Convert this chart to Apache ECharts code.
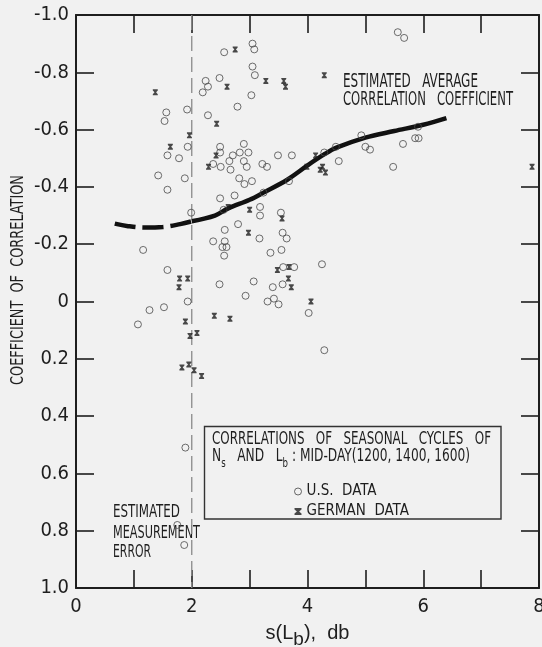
<!DOCTYPE html>
<html><head><meta charset="utf-8">
<script src="https://cdn.jsdelivr.net/npm/echarts@6/dist/echarts.min.js"></script>
<style>html,body{margin:0;padding:0;background:#f1f1f1}#c{width:542px;height:647px}</style>
</head><body><div id="c"></div>
<script>
// ---- data (s(Lb) in db, coefficient of correlation) ----
const usPoints = [[2.56,-0.87],[3.05,-0.90],[3.08,-0.88],[3.05,-0.82],[3.09,-0.79],[2.48,-0.78],[2.24,-0.77],[2.28,-0.75],[2.19,-0.73],[3.03,-0.72],[2.79,-0.68],[1.56,-0.66],[1.92,-0.67],[2.28,-0.65],[1.53,-0.63],[1.93,-0.54],[1.58,-0.51],[1.78,-0.50],[1.42,-0.44],[1.88,-0.43],[1.58,-0.39],[2.49,-0.54],[2.49,-0.52],[2.65,-0.49],[2.37,-0.48],[2.50,-0.47],[2.67,-0.46],[2.71,-0.51],[2.83,-0.52],[2.98,-0.52],[2.90,-0.55],[2.90,-0.49],[2.95,-0.47],[3.22,-0.48],[3.30,-0.47],[3.49,-0.51],[3.73,-0.51],[2.82,-0.43],[2.91,-0.41],[3.04,-0.42],[3.68,-0.42],[4.29,-0.52],[4.49,-0.54],[4.54,-0.49],[4.93,-0.58],[5.00,-0.54],[5.08,-0.53],[5.65,-0.55],[5.86,-0.57],[5.92,-0.57],[5.91,-0.61],[5.48,-0.47],[5.56,-0.94],[5.67,-0.92],[2.49,-0.36],[2.74,-0.37],[3.24,-0.38],[2.55,-0.32],[3.18,-0.33],[3.18,-0.30],[3.54,-0.31],[1.99,-0.31],[2.57,-0.25],[2.80,-0.27],[3.17,-0.22],[3.57,-0.24],[3.64,-0.22],[2.37,-0.21],[2.57,-0.21],[2.53,-0.19],[2.60,-0.19],[2.56,-0.16],[3.36,-0.17],[3.55,-0.18],[1.16,-0.18],[3.58,-0.12],[3.77,-0.12],[4.25,-0.13],[3.40,-0.05],[3.57,-0.06],[3.07,-0.07],[2.48,-0.06],[1.58,-0.11],[2.93,-0.02],[3.31,0.00],[3.42,-0.01],[3.50,0.01],[4.02,0.04],[4.29,0.17],[1.93,0.00],[1.27,0.03],[1.52,0.02],[1.07,0.08],[1.89,0.51],[1.75,0.78],[1.87,0.85]];
const germanPoints = [[1.37,-0.73],[2.75,-0.88],[2.61,-0.75],[3.28,-0.77],[3.59,-0.77],[3.62,-0.75],[4.29,-0.79],[2.43,-0.62],[1.96,-0.58],[1.63,-0.54],[2.42,-0.51],[2.29,-0.47],[4.14,-0.51],[3.99,-0.47],[4.26,-0.47],[4.22,-0.46],[4.31,-0.45],[7.88,-0.47],[2.63,-0.33],[3.00,-0.32],[2.98,-0.24],[3.56,-0.29],[3.68,-0.12],[3.48,-0.11],[3.67,-0.08],[3.72,-0.05],[4.06,0.00],[1.79,-0.08],[1.93,-0.08],[1.78,-0.05],[2.39,0.05],[2.66,0.06],[1.89,0.07],[1.97,0.12],[2.09,0.11],[1.95,0.22],[1.83,0.23],[2.04,0.24],[2.17,0.26]];
const avgCurveDashed = [[0.67,-0.272],[0.9,-0.263],[1.2,-0.258],[1.5,-0.26],[1.8,-0.27],[2.0,-0.28]];
const avgCurveSolid = [[2.0,-0.28],[2.4,-0.30],[2.63,-0.325],[3.0,-0.355],[3.24,-0.38],[3.65,-0.425],[4.0,-0.475],[4.3,-0.515],[4.5,-0.537],[5.0,-0.572],[5.5,-0.595],[6.0,-0.617],[6.4,-0.64]];
const measurementError = [[2,-1],[2,1]];
const xLabeled = [0,2,4,6,8];
const seriesNames = ['U.S. DATA','GERMAN DATA'];

// ---- presentation ----
const NARROW = '"Liberation Sans Narrow","DejaVu Sans Condensed","Roboto Condensed",sans-serif';
const REG = '"Liberation Sans",Arial,sans-serif';
const INK = '#1e1e1e';
const HOURGLASS = 'path://M0,0L10,0L10,2L6.6,5L10,8L10,10L0,10L0,8L3.4,5L0,2Z';
const mctx = document.createElement('canvas').getContext('2d');
function tw(t, size, fam){ mctx.font = size + 'px ' + fam; return mctx.measureText(t).width; }
function fitText(text, left, cy, width, size){
  return {type:'text', x:left, y:cy, scaleX: width / tw(text, size, NARROW), silent:true,
    style:{text:text, fontSize:size, fontFamily:NARROW, fill:INK, align:'left', verticalAlign:'middle'}};
}
function yFmt(v){ return Math.abs(v) < 1e-9 ? '0' : v.toFixed(1); }

const chart = echarts.init(document.getElementById('c'), null, {renderer:'canvas'});
const axisLine = {show:true, onZero:false, lineStyle:{color:INK, width:2}};
const tickIn = {show:true, inside:true, length:18, lineStyle:{color:INK, width:1.6}};

const sub2Parts = [['a','N'],['s','s'],['a','   AND   L'],['s','b'],['a',' : MID-DAY(1200, 1400, 1600)']];
const subSize = {a:17, s:12};
const sub2W = sub2Parts.reduce((w,p)=>w+tw(p[1], subSize[p[0]], NARROW), 0);
const ytitle = 'COEFFICIENT  OF  CORRELATION';

const graphics = [
  fitText('ESTIMATED   AVERAGE', 343, 82, 135, 19),
  fitText('CORRELATION   COEFFICIENT', 343, 100, 170, 19),
  fitText('ESTIMATED', 113, 513, 67, 17),
  fitText('MEASUREMENT', 113, 534, 87, 17),
  fitText('ERROR', 113, 553, 38, 17),
  {type:'rect', shape:{x:204.5, y:426.5, width:296.5, height:92.5}, silent:true,
   style:{fill:'#f1f1f1', stroke:'#333', lineWidth:1.4}, z:50},
  Object.assign(fitText('CORRELATIONS   OF   SEASONAL   CYCLES   OF', 212, 440, 279, 17), {z:51}),
  {type:'text', x:212, y:459, z:51, silent:true, scaleX: 258 / sub2W,
   style:{text: sub2Parts.map(p=>'{'+p[0]+'|'+p[1]+'}').join(''), fill:INK, align:'left', verticalAlign:'middle',
     rich:{a:{fontSize:17, fontFamily:NARROW, lineHeight:22, verticalAlign:'top', fill:INK},
           s:{fontSize:12, fontFamily:NARROW, lineHeight:22, verticalAlign:'bottom', fill:INK}}}},
  {type:'text', x:18, y:280, rotation:Math.PI/2, scaleX: 210 / tw(ytitle, 18, NARROW), silent:true,
   style:{text:ytitle, fontSize:18, fontFamily:NARROW, fill:INK, align:'center', verticalAlign:'middle'}}
];

chart.setOption({
  animation:false,
  backgroundColor:'#f1f1f1',
  grid:{left:76, right:3, top:15, bottom:59, containLabel:false, outerBoundsMode:'none'},
  xAxis:[
    {type:'value', min:0, max:8, interval:1, position:'bottom', axisLine:axisLine, axisTick:tickIn, splitLine:{show:false},
     axisLabel:{margin:9, color:INK, fontSize:20, fontFamily:NARROW, showMaxLabel:true, showMinLabel:true,
       formatter:v => xLabeled.indexOf(v) >= 0 ? String(v) : ''},
     name:'{a|s(L}{s|b}{a|),  db}', nameLocation:'middle', nameGap:35,
     nameTextStyle:{rich:{a:{fontSize:20, fontFamily:REG, color:INK, lineHeight:26, verticalAlign:'top'},
                          s:{fontSize:19, fontFamily:REG, color:INK, lineHeight:26, verticalAlign:'bottom'}}}},
    {type:'value', min:0, max:8, interval:1, position:'top', axisLine:axisLine, axisTick:tickIn, axisLabel:{show:false}, splitLine:{show:false}}
  ],
  yAxis:[
    {type:'value', min:-1, max:1, interval:0.2, inverse:true, position:'left', axisLine:axisLine, axisTick:tickIn, splitLine:{show:false},
     axisLabel:{margin:7, color:INK, fontSize:20, fontFamily:NARROW, formatter:yFmt, showMaxLabel:true, showMinLabel:true}},
    {type:'value', min:-1, max:1, interval:0.2, inverse:true, position:'right', axisLine:axisLine, axisTick:tickIn, axisLabel:{show:false}, splitLine:{show:false}}
  ],
  legend:{orient:'vertical', left:289, top:479, itemWidth:7, itemHeight:7, itemGap:5, selectedMode:false, z:60,
    textStyle:{fontFamily:NARROW, fontSize:15, color:INK, lineHeight:14.3},
    formatter:n => n.replace(' ', '  '),
    data:[{name:seriesNames[0], icon:'circle', itemStyle:{color:'transparent', borderColor:'#444', borderWidth:1}},
          {name:seriesNames[1], icon:HOURGLASS, itemStyle:{color:INK}}]},
  graphic:graphics,
  series:[
    {type:'line', data:measurementError, showSymbol:false, silent:true, z:1,
     lineStyle:{color:'#8a8a8a', width:1.3, type:[15,6]}},
    {type:'line', data:avgCurveDashed, smooth:0.4, showSymbol:false, silent:true, z:3,
     lineStyle:{color:'#111', width:4.5, type:[21,7], cap:'butt'}},
    {type:'line', data:avgCurveSolid, smooth:0.35, showSymbol:false, silent:true, z:3,
     lineStyle:{color:'#111', width:4.5}},
    {name:seriesNames[0], type:'scatter', data:usPoints, symbol:'circle', symbolSize:7, z:4,
     itemStyle:{color:'transparent', borderColor:'#4a4a4a', borderWidth:1}},
    {name:seriesNames[1], type:'scatter', data:germanPoints, symbol:HOURGLASS, symbolSize:[5,6], z:5,
     itemStyle:{color:INK}}
  ]
});
</script></body></html>
